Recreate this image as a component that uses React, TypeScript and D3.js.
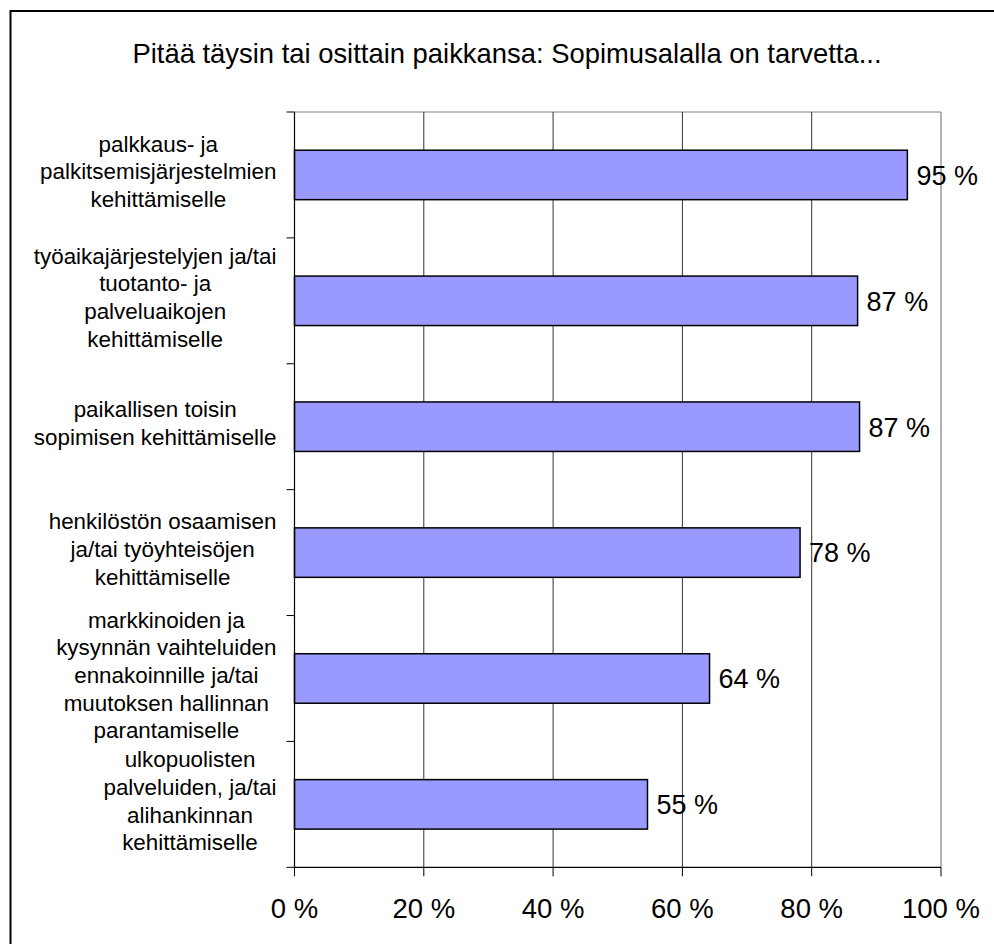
import React, { useEffect, useRef } from "react";
import * as d3 from "d3";

const titleText = "Pitää täysin tai osittain paikkansa: Sopimusalalla on tarvetta...";

const categories: string[][] = [
  ["palkkaus- ja", "palkitsemisjärjestelmien", "kehittämiselle"],
  ["työaikajärjestelyjen ja/tai", "tuotanto- ja", "palveluaikojen", "kehittämiselle"],
  ["paikallisen toisin", "sopimisen kehittämiselle"],
  ["henkilöstön osaamisen", "ja/tai työyhteisöjen", "kehittämiselle"],
  ["markkinoiden ja", "kysynnän vaihteluiden", "ennakoinnille ja/tai", "muutoksen hallinnan", "parantamiselle"],
  ["ulkopuolisten", "palveluiden, ja/tai", "alihankinnan", "kehittämiselle"],
];

const values: number[] = [94.8, 87.1, 87.4, 78.2, 64.2, 54.6];

const xTicks: number[] = [0, 20, 40, 60, 80, 100];

const FONT = "'Liberation Sans', Arial, sans-serif";

export default function App() {
  const ref = useRef<SVGSVGElement | null>(null);

  useEffect(() => {
    const svg = d3.select(ref.current);
    svg.selectAll("*").remove();

    const W = 994, H = 944;
    const left = 294.5, right = 941, top = 112, bottom = 867.3;

    svg.append("rect").attr("x", 0).attr("y", 0).attr("width", W).attr("height", H).attr("fill", "#fff");
    // outer border (extends past the visible area on right and bottom)
    svg.append("rect").attr("x", 10.5).attr("y", 11).attr("width", 1200).attr("height", 1200)
      .attr("fill", "none").attr("stroke", "#000").attr("stroke-width", 2);

    svg.append("text").attr("x", 507).attr("y", 63).attr("text-anchor", "middle")
      .attr("font-family", FONT).attr("font-size", 27.4).attr("fill", "#000").text(titleText);

    const x = d3.scaleLinear().domain([0, 100]).range([left, right]);
    const idx = categories.map((_, i) => String(i));
    const band = d3.scaleBand<string>().domain(idx).range([top, bottom]);
    const bars = d3.scaleBand<string>().domain(idx).range([top, bottom]).paddingInner(0.607).paddingOuter(0.3035);

    // plot area border (top & right)
    svg.append("line").attr("x1", left).attr("x2", right).attr("y1", top).attr("y2", top)
      .attr("stroke", "#808080").attr("stroke-width", 1.2);
    svg.append("line").attr("x1", right).attr("x2", right).attr("y1", top).attr("y2", bottom)
      .attr("stroke", "#808080").attr("stroke-width", 1.2);

    // gridlines
    svg.append("g").selectAll("line").data(xTicks.slice(1, -1)).join("line")
      .attr("x1", d => x(d)).attr("x2", d => x(d)).attr("y1", top).attr("y2", bottom)
      .attr("stroke", "#333").attr("stroke-width", 1);

    // bars
    svg.append("g").selectAll("rect").data(values).join("rect")
      .attr("x", x(0)).attr("y", (_, i) => bars(String(i))!)
      .attr("width", d => x(d) - x(0)).attr("height", bars.bandwidth())
      .attr("fill", "#9999FF").attr("stroke", "#000").attr("stroke-width", 1.5);

    // value labels
    svg.append("g").selectAll("text").data(values).join("text")
      .attr("x", d => x(d) + 9).attr("y", (_, i) => band(String(i))! + band.bandwidth() / 2 + 9.8)
      .attr("font-family", FONT).attr("font-size", 27).attr("fill", "#000")
      .text(d => `${Math.round(d)} %`);

    // axes
    svg.append("line").attr("x1", left).attr("x2", left).attr("y1", top).attr("y2", bottom)
      .attr("stroke", "#000").attr("stroke-width", 1.2);
    svg.append("line").attr("x1", left).attr("x2", right).attr("y1", bottom).attr("y2", bottom)
      .attr("stroke", "#000").attr("stroke-width", 1.2);

    const yTickPos = idx.map(i => band(i)!).concat([bottom]);
    svg.append("g").selectAll("line").data(yTickPos).join("line")
      .attr("x1", left - 8).attr("x2", left).attr("y1", d => d).attr("y2", d => d)
      .attr("stroke", "#000").attr("stroke-width", 1);
    svg.append("g").selectAll("line").data(xTicks).join("line")
      .attr("x1", d => x(d)).attr("x2", d => x(d)).attr("y1", bottom).attr("y2", bottom + 9)
      .attr("stroke", "#000").attr("stroke-width", 1);

    svg.append("g").selectAll("text").data(xTicks).join("text")
      .attr("x", d => x(d)).attr("y", 917.7).attr("text-anchor", "middle")
      .attr("font-family", FONT).attr("font-size", 27.5).attr("fill", "#000")
      .text(d => `${d} %`);

    // category labels: lines centered within a block right-aligned near the axis
    const blockRight = 276.5;
    const lh = 27.7;
    categories.forEach((lines, i) => {
      const g = svg.append("g");
      const cy = band(String(i))! + band.bandwidth() / 2;
      const texts = g.selectAll("text").data(lines).join("text")
        .attr("font-family", FONT).attr("font-size", 22.4).attr("fill", "#000")
        .attr("text-anchor", "middle")
        .attr("y", (_, j) => cy + (j - (lines.length - 1) / 2) * lh + 4.5)
        .text(d => d);
      let maxW = 0;
      texts.each(function () {
        const w = (this as SVGTextElement).getComputedTextLength();
        if (w > maxW) maxW = w;
      });
      texts.attr("x", blockRight - maxW / 2);
    });
  }, []);

  return (
    <svg ref={ref} width={994} height={944} style={{ position: "absolute", left: 0, top: 0 }} />
  );
}
